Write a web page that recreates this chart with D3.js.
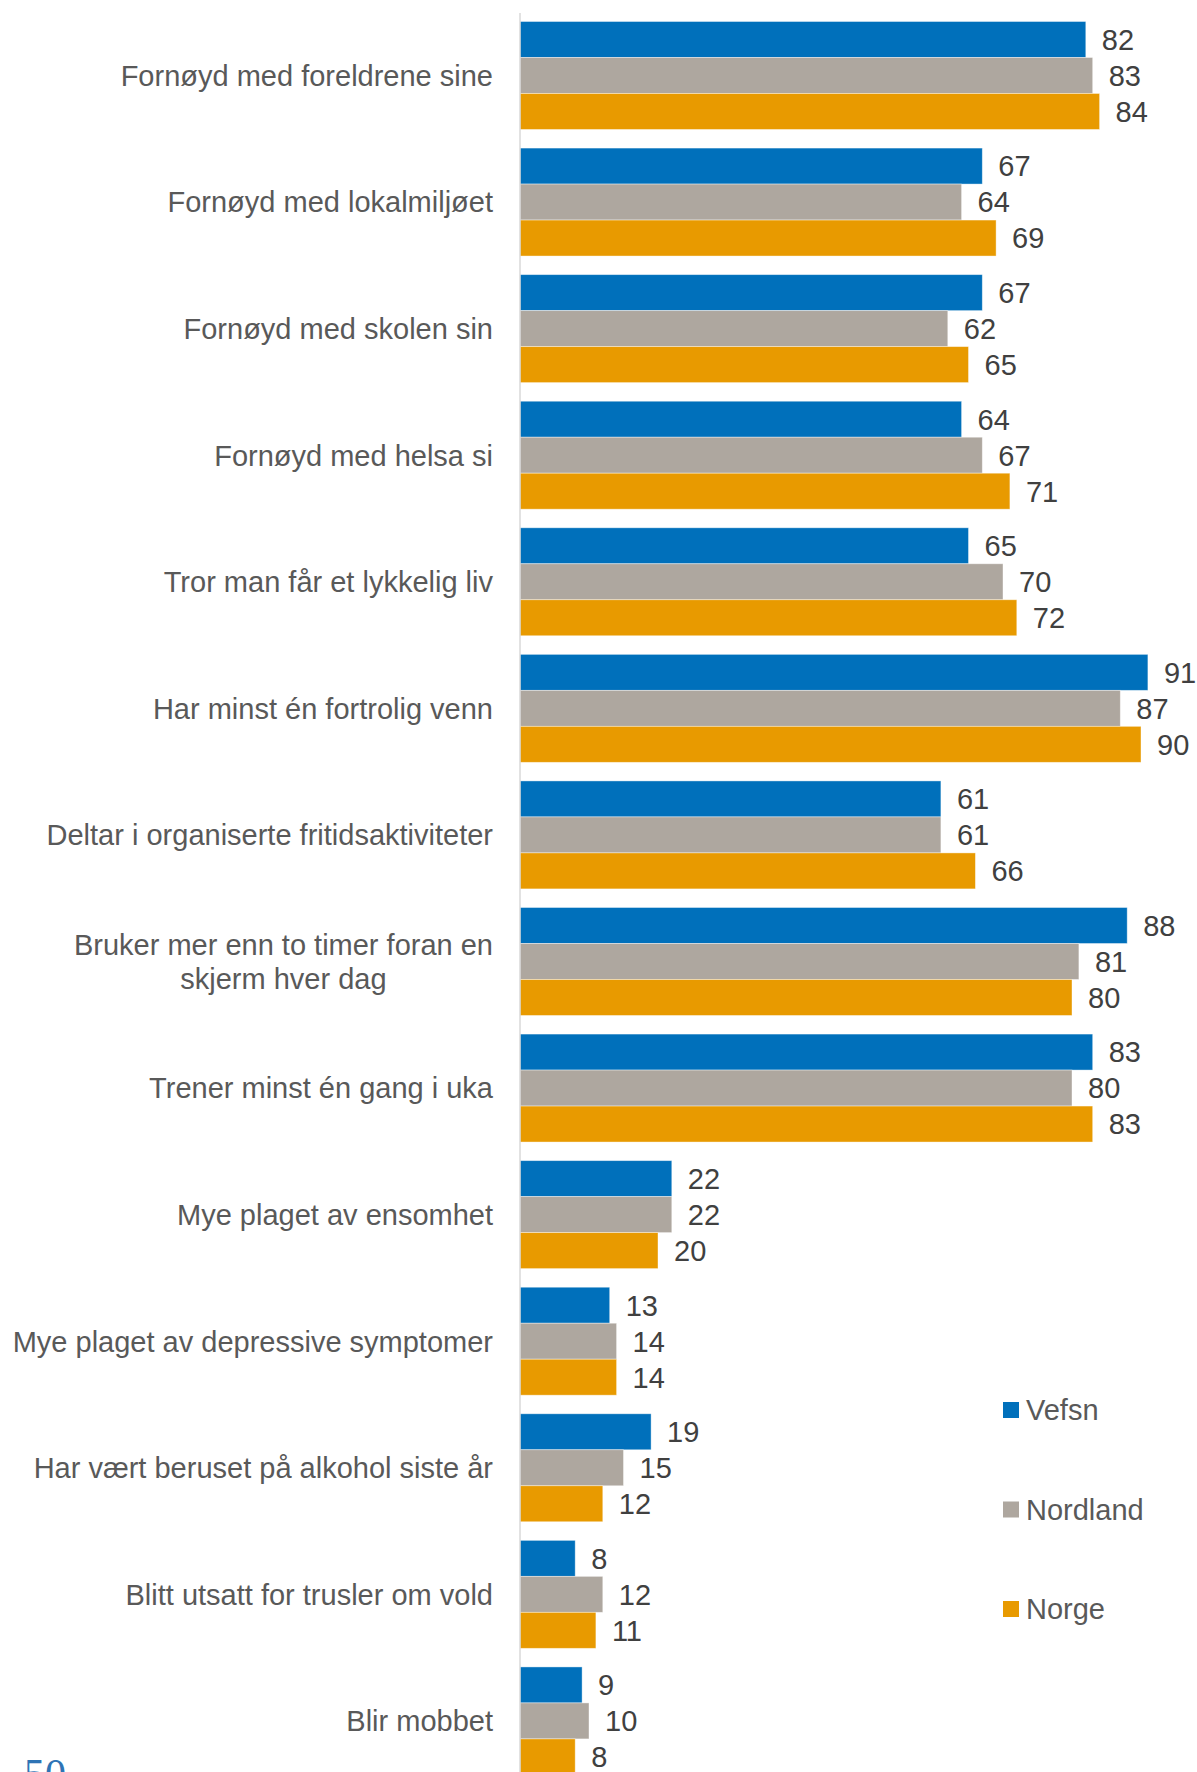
<!DOCTYPE html>
<html>
<head>
<meta charset="utf-8">
<script src="https://cdn.jsdelivr.net/npm/d3@7"></script>
<style>
  body { margin: 0; background: #fff; }
  svg { display: block; font-family: "Liberation Sans", Arial, sans-serif; }
</style>
</head>
<body>
<div id="chart"></div>
<script>
// categories (one line per entry, "\n" marks a wrapped label)
var categories = [
    "Fornøyd med foreldrene sine",
    "Fornøyd med lokalmiljøet",
    "Fornøyd med skolen sin",
    "Fornøyd med helsa si",
    "Tror man får et lykkelig liv",
    "Har minst én fortrolig venn",
    "Deltar i organiserte fritidsaktiviteter",
    "Bruker mer enn to timer foran en\nskjerm hver dag",
    "Trener minst én gang i uka",
    "Mye plaget av ensomhet",
    "Mye plaget av depressive symptomer",
    "Har vært beruset på alkohol siste år",
    "Blitt utsatt for trusler om vold",
    "Blir mobbet"
]
var seriesNames = ["Vefsn", "Nordland", "Norge"]
var vefsn    = [82, 67, 67, 64, 65, 91, 61, 88, 83, 22, 13, 19, 8, 9]
var nordland = [83, 64, 62, 67, 70, 87, 61, 81, 80, 22, 14, 15, 12, 10]
var norge    = [84, 69, 65, 71, 72, 90, 66, 80, 83, 20, 14, 12, 11, 8]
var pageNumber = "50"

var seriesValues = [vefsn, nordland, norge]
var colors = ["#0070BB", "#AEA79F", "#E89A00"]

var width = 1197, height = 1772

var svg = d3.select("#chart")
    .append("svg")
        .attr("width", width)
        .attr("height", height)

// build rows: one per category
var data = categories.map(function(c, i) {
    return {
        name: c,
        values: seriesNames.map(function(s, j) { return {key: s, value: seriesValues[j][i]} })
    }
})

// X scale
var x = d3.scaleLinear()
    .domain([0, 100])
    .range([520, 1210])

// Y scale for groups and inner scale for series
var y = d3.scaleBand()
    .domain(categories)
    .range([12.2, 1784.2])
    .paddingInner(0.147)
    .paddingOuter(0.0735)

var ySub = d3.scaleBand()
    .domain(seriesNames)
    .range([0, y.bandwidth()])

var color = d3.scaleOrdinal()
    .domain(seriesNames)
    .range(colors)

// bars
var groups = svg.append("g")
    .selectAll("g")
    .data(data)
    .enter().append("g")
        .attr("transform", function(d) { return "translate(0," + y(d.name) + ")" })

groups.selectAll("rect")
    .data(function(d) { return d.values })
    .enter().append("rect")
        .attr("x", x(0))
        .attr("y", function(d) { return ySub(d.key) })
        .attr("width", function(d) { return x(d.value) - x(0) })
        .attr("height", ySub.bandwidth())
        .attr("fill", function(d) { return color(d.key) })
        .attr("stroke", "#ffffff")
        .attr("stroke-opacity", 0.5)
        .attr("stroke-width", 0.8)

// value labels
groups.selectAll("text.val")
    .data(function(d) { return d.values })
    .enter().append("text")
        .attr("class", "val")
        .attr("x", function(d) { return x(d.value) + 16 })
        .attr("y", function(d) { return ySub(d.key) + ySub.bandwidth() / 2 })
        .attr("dy", "0.36em")
        .style("font-size", "29px")
        .style("fill", "#404040")
        .text(function(d) { return d.value })

// vertical axis line
svg.append("line")
    .attr("x1", x(0)).attr("x2", x(0))
    .attr("y1", 13).attr("y2", height)
    .attr("stroke", "#d9d9d9")
    .attr("stroke-width", 1.5)

// category labels
var labels = svg.append("g")
    .selectAll("text")
    .data(data)
    .enter().append("text")
        .attr("text-anchor", "middle")
        .style("font-size", "29px")
        .style("fill", "#595959")
        .attr("y", function(d) { return y(d.name) + y.bandwidth() / 2 })

labels.each(function(d) {
    var lines = d.name.split("\n")
    var t = d3.select(this)
    var lh = 34
    lines.forEach(function(l, i) {
        t.append("tspan")
            .attr("x", 0)
            .attr("dy", i == 0 ? (0.36 * 29 - (lines.length - 1) * lh / 2) + "px" : lh + "px")
            .text(l)
    })
})

// right-align each block, center its lines inside it
labels.each(function() {
    var t = d3.select(this)
    var w = 0
    t.selectAll("tspan").each(function() {
        w = Math.max(w, this.getComputedTextLength())
    })
    t.selectAll("tspan").attr("x", 493 - w / 2)
})

// legend
var legend = svg.selectAll(".legend")
    .data(seriesNames)
    .enter().append("g")
    .attr("class", "legend")
    .attr("transform", function(d, i) { return "translate(1003," + (1410 + i * 99.5) + ")" })

legend.append("rect")
    .attr("x", 0)
    .attr("y", -8)
    .attr("width", 16)
    .attr("height", 16)
    .style("fill", function(d) { return color(d) })

legend.append("text")
    .attr("x", 23)
    .attr("y", 0)
    .attr("dy", "0.36em")
    .style("font-size", "29px")
    .style("fill", "#595959")
    .text(function(d) { return d })

// page number, cut by the bottom edge
svg.append("text")
    .attr("x", 24)
    .attr("y", 1788)
    .style("font-family", "'Liberation Serif', 'DejaVu Serif', serif")
    .style("font-size", "42px")
    .style("fill", "#2E74B5")
    .text(pageNumber)
</script>
</body>
</html>
